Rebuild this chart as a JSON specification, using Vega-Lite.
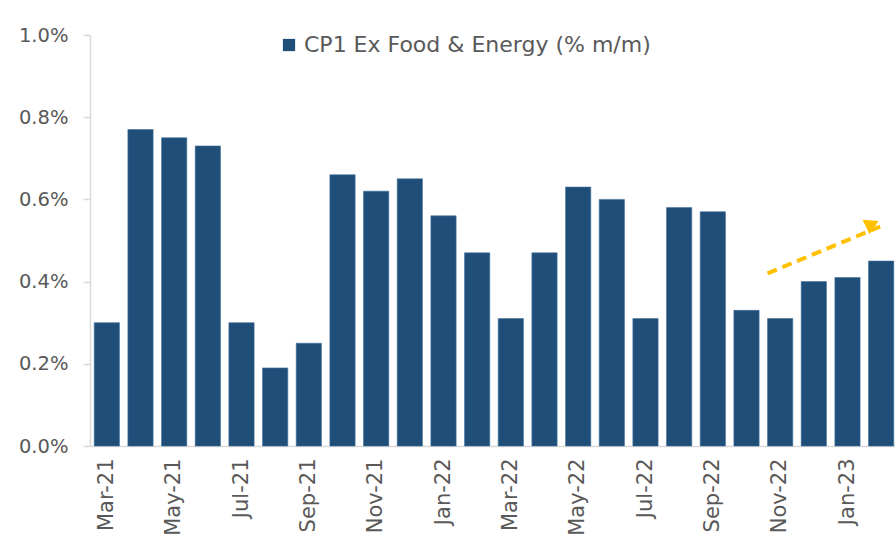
{
  "$schema": "https://vega.github.io/schema/vega-lite/v6.json",
  "autosize": "none",
  "padding": {"left": 90, "top": 35, "right": 0, "bottom": 101},
  "width": 808,
  "height": 411,
  "background": "white",
  "config": {
    "view": {"stroke": null},
    "font": "DejaVu Sans"
  },
  "datasets": {
    "cpi": [
      {"month": "Mar-21", "value": 0.30, "series": "CP1 Ex Food & Energy (% m/m)"},
      {"month": "Apr-21", "value": 0.77, "series": "CP1 Ex Food & Energy (% m/m)"},
      {"month": "May-21", "value": 0.75, "series": "CP1 Ex Food & Energy (% m/m)"},
      {"month": "Jun-21", "value": 0.73, "series": "CP1 Ex Food & Energy (% m/m)"},
      {"month": "Jul-21", "value": 0.30, "series": "CP1 Ex Food & Energy (% m/m)"},
      {"month": "Aug-21", "value": 0.19, "series": "CP1 Ex Food & Energy (% m/m)"},
      {"month": "Sep-21", "value": 0.25, "series": "CP1 Ex Food & Energy (% m/m)"},
      {"month": "Oct-21", "value": 0.66, "series": "CP1 Ex Food & Energy (% m/m)"},
      {"month": "Nov-21", "value": 0.62, "series": "CP1 Ex Food & Energy (% m/m)"},
      {"month": "Dec-21", "value": 0.65, "series": "CP1 Ex Food & Energy (% m/m)"},
      {"month": "Jan-22", "value": 0.56, "series": "CP1 Ex Food & Energy (% m/m)"},
      {"month": "Feb-22", "value": 0.47, "series": "CP1 Ex Food & Energy (% m/m)"},
      {"month": "Mar-22", "value": 0.31, "series": "CP1 Ex Food & Energy (% m/m)"},
      {"month": "Apr-22", "value": 0.47, "series": "CP1 Ex Food & Energy (% m/m)"},
      {"month": "May-22", "value": 0.63, "series": "CP1 Ex Food & Energy (% m/m)"},
      {"month": "Jun-22", "value": 0.60, "series": "CP1 Ex Food & Energy (% m/m)"},
      {"month": "Jul-22", "value": 0.31, "series": "CP1 Ex Food & Energy (% m/m)"},
      {"month": "Aug-22", "value": 0.58, "series": "CP1 Ex Food & Energy (% m/m)"},
      {"month": "Sep-22", "value": 0.57, "series": "CP1 Ex Food & Energy (% m/m)"},
      {"month": "Oct-22", "value": 0.33, "series": "CP1 Ex Food & Energy (% m/m)"},
      {"month": "Nov-22", "value": 0.31, "series": "CP1 Ex Food & Energy (% m/m)"},
      {"month": "Dec-22", "value": 0.40, "series": "CP1 Ex Food & Energy (% m/m)"},
      {"month": "Jan-23", "value": 0.41, "series": "CP1 Ex Food & Energy (% m/m)"},
      {"month": "Feb-23", "value": 0.45, "series": "CP1 Ex Food & Energy (% m/m)"}
    ],
    "arrow": [
      {"month": "Nov-22", "value": 0.42, "month2": "Feb-23", "value2": 0.535}
    ],
    "head": [
      {"month": "Feb-23", "value": 0.54}
    ]
  },
  "layer": [
    {
      "data": {"name": "cpi"},
      "mark": {"type": "bar", "color": "#1F4E79", "stroke": "#41719C", "strokeWidth": 0.6},
      "encoding": {
        "x": {
          "field": "month", "type": "ordinal",
          "scale": {
            "domain": ["Mar-21","Apr-21","May-21","Jun-21","Jul-21","Aug-21","Sep-21","Oct-21","Nov-21","Dec-21","Jan-22","Feb-22","Mar-22","Apr-22","May-22","Jun-22","Jul-22","Aug-22","Sep-22","Oct-22","Nov-22","Dec-22","Jan-23","Feb-23"],
            "paddingInner": 0.25, "paddingOuter": 0.125
          },
          "axis": {
            "title": null,
            "values": ["Mar-21","May-21","Jul-21","Sep-21","Nov-21","Jan-22","Mar-22","May-22","Jul-22","Sep-22","Nov-22","Jan-23"],
            "labelAngle": -90,
            "labelFontSize": 21,
            "labelColor": "#595959",
            "labelPadding": 12,
            "ticks": false,
            "domainColor": "#D9D9D9",
            "domainWidth": 1.5
          }
        },
        "y": {
          "field": "value", "type": "quantitative",
          "scale": {"domain": [0, 1], "nice": false},
          "axis": {
            "title": null,
            "values": [0, 0.2, 0.4, 0.6, 0.8, 1.0],
            "labelExpr": "format(datum.value, '.1f') + '%'",
            "grid": false,
            "labelFontSize": 19.5,
            "labelColor": "#595959",
            "tickSize": 7,
            "tickColor": "#D9D9D9",
            "tickWidth": 1.5,
            "labelPadding": 15,
            "domainColor": "#D9D9D9",
            "domainWidth": 1.5
          }
        },
        "color": {
          "field": "series", "type": "nominal",
          "scale": {"range": ["#1F4E79"]},
          "legend": {
            "title": null,
            "orient": "none",
            "legendX": 188,
            "legendY": -1,
            "symbolType": "square",
            "symbolSize": 150,
            "symbolStrokeWidth": 0,
            "labelFontSize": 22,
            "labelLimit": 0,
            "labelColor": "#595959",
            "labelOffset": 4
          }
        }
      }
    },
    {
      "data": {"name": "arrow"},
      "mark": {"type": "rule", "color": "#FFC000", "strokeWidth": 4, "strokeDash": [10, 6]},
      "encoding": {
        "x": {"field": "month", "type": "ordinal", "bandPosition": 0},
        "x2": {"field": "month2"},
        "y": {"field": "value", "type": "quantitative"},
        "y2": {"field": "value2"}
      }
    },
    {
      "data": {"name": "head"},
      "mark": {"type": "point", "shape": "triangle-right", "filled": true, "color": "#FFC000", "size": 260, "angle": -26, "opacity": 1},
      "encoding": {
        "x": {"field": "month", "type": "ordinal", "bandPosition": 0.15},
        "y": {"field": "value", "type": "quantitative"}
      }
    }
  ]
}
